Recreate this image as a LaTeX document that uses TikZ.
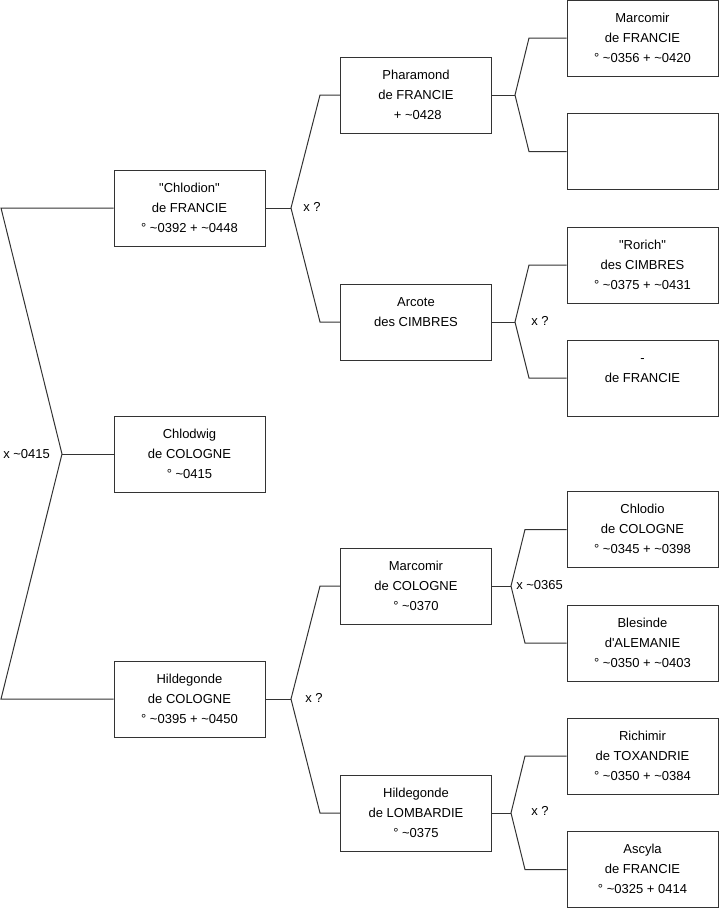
\documentclass[tikz,border=0pt]{standalone}
\usepackage{fontspec}
\setmainfont{Liberation Sans}
\newcommand\tld{\textasciitilde}
\newcommand\dq{\textquotedbl}
\begin{document}
\begin{tikzpicture}[x=0.75pt,y=-0.75pt,
  person/.style={draw=black!80, line width=0.75pt, minimum width=113.25pt, minimum height=57pt,
    inner sep=0pt, align=center, font=\fontsize{9.75}{15}\selectfont},
  link/.style={draw=black!80, line width=0.75pt},
  lbl/.style={anchor=west, inner sep=0pt, font=\fontsize{9.75}{15}\selectfont}]
\useasboundingbox (0,0) rectangle (719,908);

% level 1
\node[person] (chlodion) at (189.5,208) {\strut \dq Chlodion\dq\\\strut de FRANCIE\\\strut ° \tld0392 + \tld0448};
\node[person] (chlodwig) at (189.5,454) {\strut Chlodwig\\\strut de COLOGNE\\\strut ° \tld0415};
\node[person] (hildcol) at (189.5,699) {\strut Hildegonde\\\strut de COLOGNE\\\strut ° \tld0395 + \tld0450};

% level 2
\node[person] (pharamond) at (416,95) {\strut Pharamond\\\strut de FRANCIE\\\strut \ + \tld0428};
\node[person] (arcote) at (416,322) {\strut Arcote\\\strut des CIMBRES\\\strut};
\node[person] (marccol) at (416,586) {\strut Marcomir\\\strut de COLOGNE\\\strut ° \tld0370};
\node[person] (hildlomb) at (416,813) {\strut Hildegonde\\\strut de LOMBARDIE\\\strut ° \tld0375};

% level 3
\node[person] (marcfr) at (642.5,38) {\strut Marcomir\\\strut de FRANCIE\\\strut ° \tld0356 + \tld0420};
\node[person] (empty) at (642.5,151.5) {};
\node[person] (rorich) at (642.5,265) {\strut \dq Rorich\dq\\\strut des CIMBRES\\\strut ° \tld0375 + \tld0431};
\node[person] (dash) at (642.5,378) {\strut -\\\strut de FRANCIE\\\strut};
\node[person] (chlodio) at (642.5,529.5) {\strut Chlodio\\\strut de COLOGNE\\\strut ° \tld0345 + \tld0398};
\node[person] (blesinde) at (642.5,643) {\strut Blesinde\\\strut d\textquotesingle ALEMANIE\\\strut ° \tld0350 + \tld0403};
\node[person] (richimir) at (642.5,756) {\strut Richimir\\\strut de TOXANDRIE\\\strut ° \tld0350 + \tld0384};
\node[person] (ascyla) at (642.5,869.5) {\strut Ascyla\\\strut de FRANCIE\\\strut ° \tld0325 + 0414};

% level 1 connector
\coordinate (a1) at (1,208);
\coordinate (a2) at (62,454);
\coordinate (a3) at (1,699);
\draw[link] (chlodion.west) -- (a1) -- (a2) -- (a3) -- (hildcol.west);
\draw[link] (a2) -- (chlodwig.west);
\node[lbl] (l1) at (3,454) {x \tld0415};

% level 2 connectors
\coordinate (b1) at (320,95);
\coordinate (b2) at (291,208);
\coordinate (b3) at (320,322);
\draw[link] (pharamond.west) -- (b1) -- (b2) -- (b3) -- (arcote.west);
\draw[link] (b2) -- (chlodion.east);
\node[lbl] (l2) at (303,207) {x ?};

\coordinate (c1) at (320,586);
\coordinate (c2) at (291,699);
\coordinate (c3) at (320,813);
\draw[link] (marccol.west) -- (c1) -- (c2) -- (c3) -- (hildlomb.west);
\draw[link] (c2) -- (hildcol.east);
\node[lbl] (l3) at (305,698) {x ?};

% level 3 connectors
\coordinate (d1) at (529,38);
\coordinate (d2) at (515,95);
\coordinate (d3) at (529,151.5);
\draw[link] (marcfr.west) -- (d1) -- (d2) -- (d3) -- (empty.west);
\draw[link] (d2) -- (pharamond.east);

\coordinate (e1) at (529,265);
\coordinate (e2) at (515,322);
\coordinate (e3) at (529,378);
\draw[link] (rorich.west) -- (e1) -- (e2) -- (e3) -- (dash.west);
\draw[link] (e2) -- (arcote.east);
\node[lbl] (l4) at (531,321) {x ?};

\coordinate (f1) at (525,529.5);
\coordinate (f2) at (511,586);
\coordinate (f3) at (525,643);
\draw[link] (chlodio.west) -- (f1) -- (f2) -- (f3) -- (blesinde.west);
\draw[link] (f2) -- (marccol.east);
\node[lbl] (l5) at (516,585) {x \tld0365};

\coordinate (g1) at (525,756);
\coordinate (g2) at (511,813);
\coordinate (g3) at (525,869.5);
\draw[link] (richimir.west) -- (g1) -- (g2) -- (g3) -- (ascyla.west);
\draw[link] (g2) -- (hildlomb.east);
\node[lbl] (l6) at (531,811) {x ?};
\end{tikzpicture}
\end{document}
